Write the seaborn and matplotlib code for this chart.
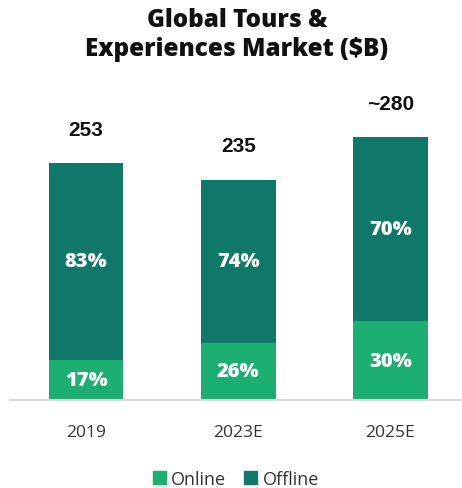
import matplotlib
matplotlib.use("Agg")
import matplotlib.pyplot as plt
import seaborn as sns
import pandas as pd
from matplotlib.patches import Patch

# chart data
years = ["2019", "2023E", "2025E"]
totals = [253, 235, 280]
total_labels = ["253", "235", "~280"]
online_share = [17, 26, 30]
offline_share = [83, 74, 70]

ONLINE = "#1DAE72"
OFFLINE = "#107868"

def build_frame():
    df = pd.DataFrame({"year": years, "total": totals,
                       "online_pct": online_share, "offline_pct": offline_share})
    df["online"] = df["total"] * df["online_pct"] / 100
    return df

def main():
    sns.set_style("white")
    plt.rcParams["font.family"] = ["Open Sans", "DejaVu Sans"]

    df = build_frame()
    fig = plt.figure(figsize=(4.62, 4.89), dpi=100)
    ax = fig.add_axes([10 / 462, 88 / 489, 452 / 462, 301 / 489])

    # full bar in offline colour, online part drawn over the bottom
    sns.barplot(data=df, x="year", y="total", order=years, color=OFFLINE,
                width=0.49, saturation=1, linewidth=0, ax=ax)
    sns.barplot(data=df, x="year", y="online", order=years, color=ONLINE,
                width=0.49, saturation=1, linewidth=0, ax=ax)

    ax.set_xlim(-0.5, 2.47)
    ax.set_ylim(0, 321)

    for i, row in df.iterrows():
        ax.text(i, row["total"] + 36, total_labels[i], ha="center", va="center",
                fontsize=15, fontweight="bold", color="#111111",
                family="Liberation Sans")
        ax.text(i, row["online"] / 2, f"{row['online_pct']}%", ha="center",
                va="center", fontsize=14.5, fontweight="heavy", color="white")
        ax.text(i, (row["online"] + row["total"]) / 2, f"{row['offline_pct']}%",
                ha="center", va="center", fontsize=14.5, fontweight="heavy",
                color="white")

    sns.despine(ax=ax, left=True, right=True, top=True)
    ax.spines["bottom"].set_color("#d9d9d9")
    ax.spines["bottom"].set_linewidth(1.5)
    ax.set_yticks([])
    ax.set_xlabel("")
    ax.set_ylabel("")
    ax.tick_params(axis="x", length=0, pad=17, labelsize=12.5, labelcolor="#333333")

    fig.text(237 / 462, 1 - 35 / 489, "Global Tours &\nExperiences Market ($B)",
             ha="center", va="center", fontsize=17.5, fontweight="heavy",
             color="#111111", linespacing=1.2)

    handles = [Patch(color=ONLINE, label="Online"), Patch(color=OFFLINE, label="Offline")]
    fig.legend(handles=handles, loc="center", bbox_to_anchor=(236 / 462, 1 - 480 / 489),
               ncol=2, frameon=False, fontsize=13, handlelength=0.7,
               handleheight=0.7, handletextpad=0.3, columnspacing=1.0,
               labelcolor="#333333")

    fig.savefig("out.png", dpi=100)

if __name__ == "__main__":
    main()
